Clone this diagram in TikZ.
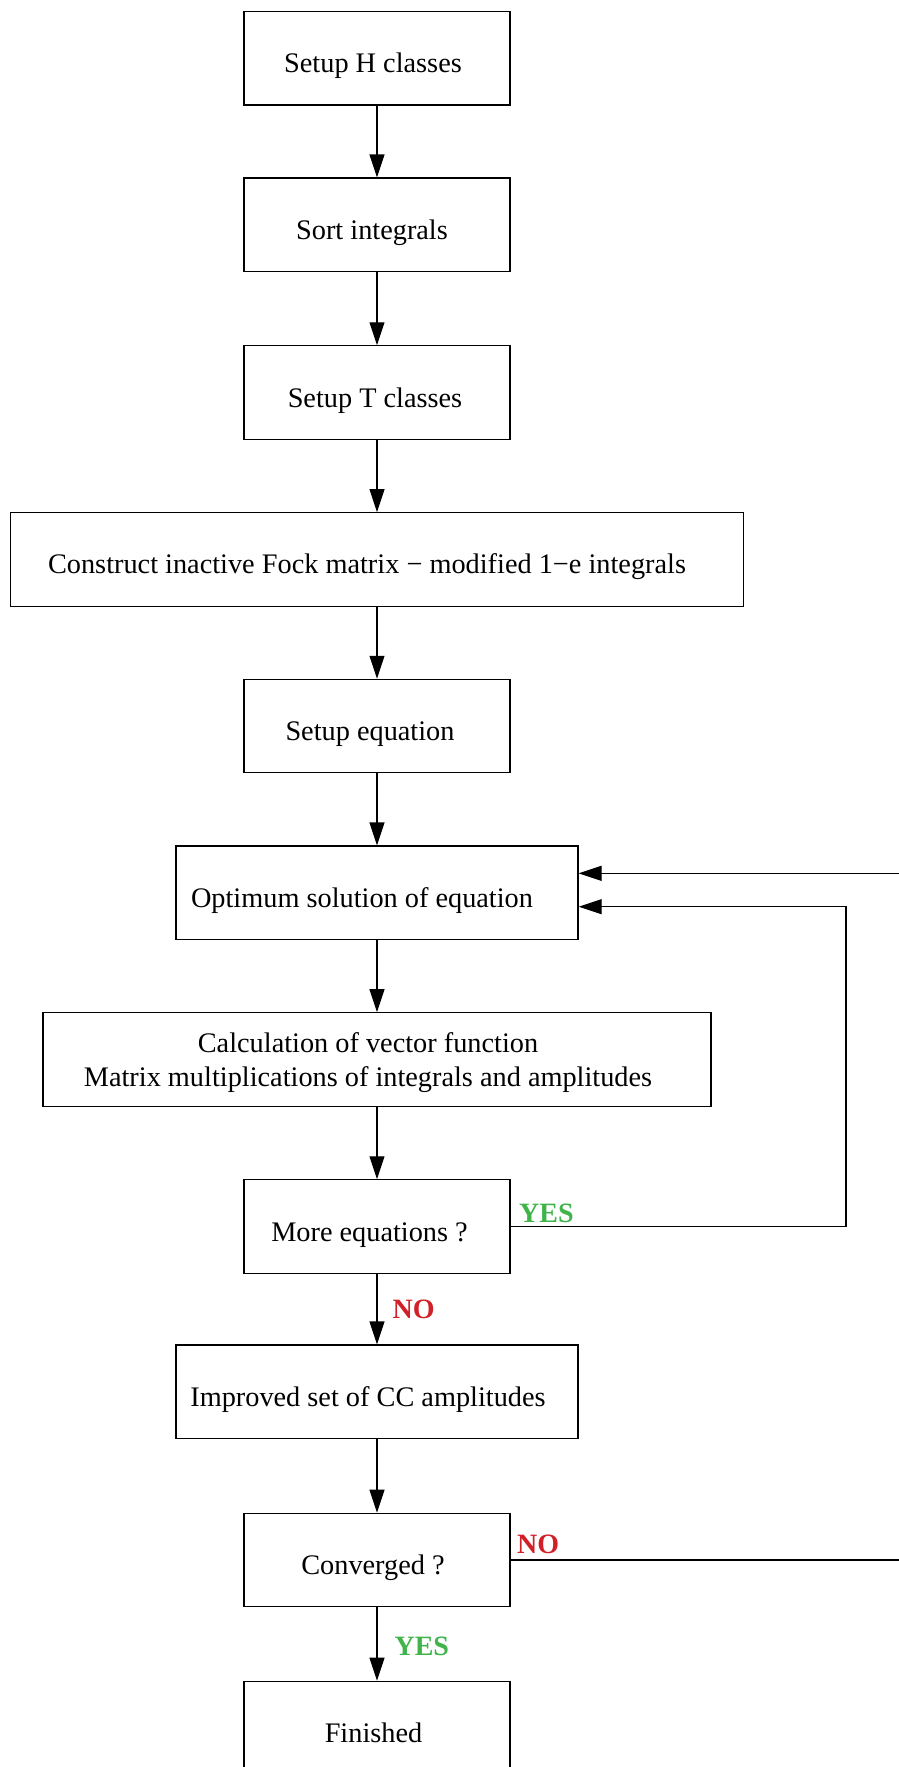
\documentclass[tikz,border=0pt]{standalone}
\usepackage{fontspec}
\setmainfont{Liberation Serif}
\usetikzlibrary{arrows.meta}
\definecolor{yesgreen}{RGB}{64,180,75}
\definecolor{nored}{RGB}{210,32,40}
\begin{document}
\begin{tikzpicture}[x=0.5pt,y=-0.5pt,
  boxbase/.style={draw=black,line width=0.6pt,minimum height=46.75pt,inner sep=0pt,
    font=\fontsize{14.15pt}{17pt}\selectfont},
  onebox/.style={boxbase,text height=14.4pt,text depth=0pt},
  smallbox/.style={onebox,minimum width=133pt},
  midbox/.style={onebox,minimum width=201pt},
  conn/.style={line width=0.55pt,-{Triangle[length=11.5pt,width=7.5pt]}},
  plainline/.style={line width=0.55pt},
  lbl/.style={font=\fontsize{14pt}{17pt}\selectfont\bfseries,inner sep=0pt}]
\useasboundingbox (0,0) rectangle (899,1767);

\node[smallbox] (h)    at (377,58.3)   {Setup H classes\hspace*{4pt}};
\node[smallbox] (sort) at (377,224.8)  {Sort integrals\hspace*{5pt}};
\node[smallbox] (t)    at (377,392.6)  {Setup T classes\hspace*{2pt}};
\node[onebox,minimum width=366.7pt] (cons) at (377,559.4) {Construct inactive Fock matrix − modified 1−e integrals\hspace*{10pt}};
\node[smallbox] (seq)  at (377,726.1)  {Setup equation\hspace*{7pt}};
\node[midbox]   (opt)  at (377,892.8)  {Optimum solution of equation\hspace*{15pt}};
\node[boxbase,minimum width=334pt,align=center] (calc) at (377,1059.5)
  {\rule{0pt}{13pt}Calculation of vector function\hspace*{9pt}\\Matrix multiplications of integrals and amplitudes\hspace*{9pt}};
\node[smallbox] (more) at (377,1226.6) {More equations ?\hspace*{7.5pt}};
\node[midbox]   (impr) at (377,1391.8) {Improved set of CC amplitudes\hspace*{9pt}};
\node[smallbox] (conv) at (377,1560)   {Converged ?\hspace*{4pt}};
\node[smallbox] (fin)  at (377,1728)   {Finished\hspace*{3.5pt}};

\coordinate (loopx) at (846,0);
\coordinate (edgeR) at (905,0);
\coordinate (optin1) at ([yshift=9.75pt]opt.east);
\coordinate (optin2) at ([yshift=-6.95pt]opt.east);

\draw[conn] (h) -- (sort);
\draw[conn] (sort) -- (t);
\draw[conn] (t) -- (cons);
\draw[conn] (cons) -- (seq);
\draw[conn] (seq) -- (opt);
\draw[conn] (opt) -- (calc);
\draw[conn] (calc) -- (more);
\draw[conn] (more) -- node[lbl,text=nored,anchor=west,xshift=7.5pt]{NO} (impr);
\draw[conn] (impr) -- (conv);
\draw[conn] (conv) -- node[lbl,text=yesgreen,anchor=west,xshift=8.5pt,yshift=-1pt]{YES} (fin);

\draw[conn] (more.east) -- node[lbl,text=yesgreen,pos=0,anchor=base west,xshift=4pt,yshift=2pt]{YES}
  (more.east -| loopx) |- (optin2);
\draw[plainline] (conv.east) -- node[lbl,text=nored,pos=0,anchor=base west,xshift=3pt,yshift=3.5pt]{NO}
  (conv.east -| edgeR);
\draw[conn] (optin1 -| edgeR) -- (optin1);
\end{tikzpicture}
\end{document}
